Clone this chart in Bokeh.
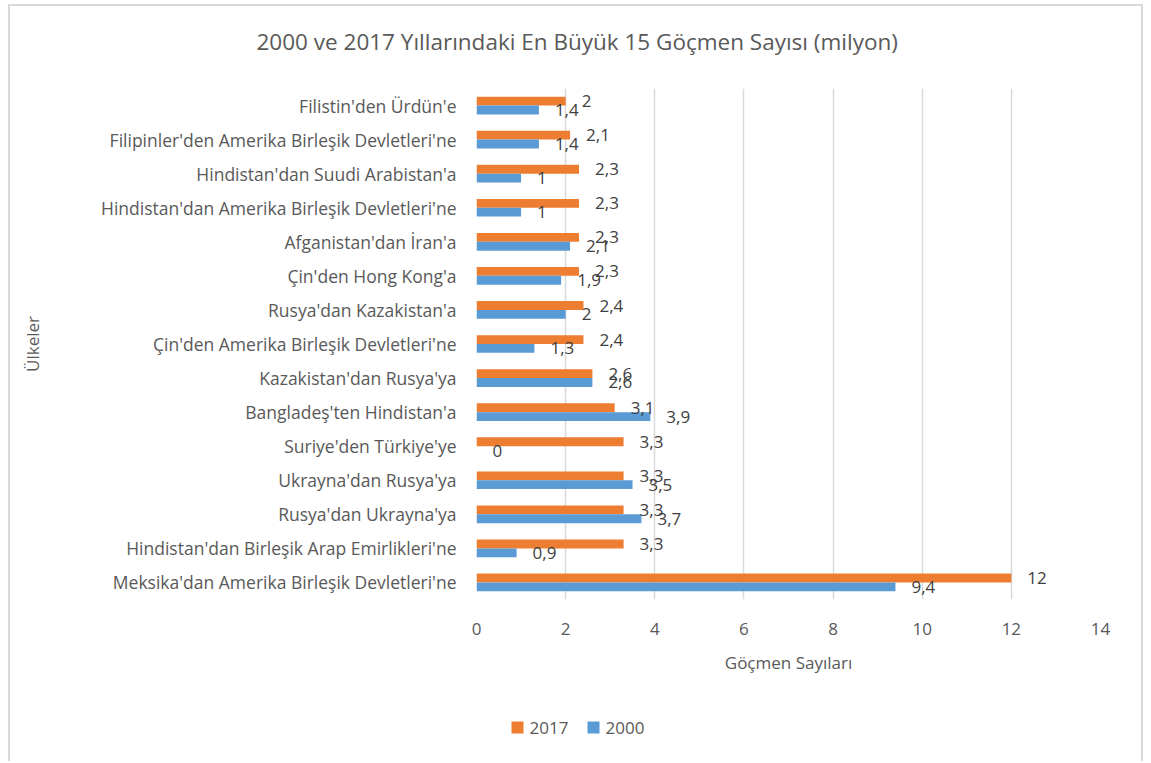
from bokeh.plotting import figure
from bokeh.layouts import column
from bokeh.models import ColumnDataSource, Range1d, FactorRange, FixedTicker, Title
from bokeh.transform import dodge
from bokeh.core.properties import value
from bokeh.embed import file_html
from bokeh.resources import INLINE

# ---- data (top to bottom as in the chart) ----
categories = [
    "Filistin'den Ürdün'e",
    "Filipinler'den Amerika Birleşik Devletleri'ne",
    "Hindistan'dan Suudi Arabistan'a",
    "Hindistan'dan Amerika Birleşik Devletleri'ne",
    "Afganistan'dan İran'a",
    "Çin'den Hong Kong'a",
    "Rusya'dan Kazakistan'a",
    "Çin'den Amerika Birleşik Devletleri'ne",
    "Kazakistan'dan Rusya'ya",
    "Bangladeş'ten Hindistan'a",
    "Suriye'den Türkiye'ye",
    "Ukrayna'dan Rusya'ya",
    "Rusya'dan Ukrayna'ya",
    "Hindistan'dan Birleşik Arap Emirlikleri'ne",
    "Meksika'dan Amerika Birleşik Devletleri'ne",
]
values_2017 = [2, 2.1, 2.3, 2.3, 2.3, 2.3, 2.4, 2.4, 2.6, 3.1, 3.3, 3.3, 3.3, 3.3, 12]
values_2000 = [1.4, 1.4, 1, 1, 2.1, 1.9, 2, 1.3, 2.6, 3.9, 0, 3.5, 3.7, 0.9, 9.4]
x_ticks = [0, 2, 4, 6, 8, 10, 12, 14]

title_text = "2000 ve 2017 Yıllarındaki En Büyük 15 Göçmen Sayısı (milyon)"
x_title = "Göçmen Sayıları"
y_title = "Ülkeler"
series_names = ["2017", "2000"]

C2017 = "#ED7D31"
C2000 = "#5B9BD5"
TXT = "#595959"
FONT = "Open Sans"

W = 1131
BORDER_L, BORDER_R = 466, 41


def fmt(v):
    return f"{v:g}".replace(".", ",")


src = ColumnDataSource(dict(
    cat=categories,
    v2017=values_2017,
    v2000=values_2000,
    l2017=[fmt(v) for v in values_2017],
    l2000=[fmt(v) for v in values_2000],
))

p = figure(
    y_range=FactorRange(factors=categories[::-1]),
    x_range=Range1d(0, 14),
    width=W, height=690,
    output_backend="svg", toolbar_location=None,
    min_border_left=BORDER_L, min_border_right=BORDER_R,
    min_border_top=82, min_border_bottom=97,
)
p.outline_line_color = None

# spacer between title and plot area
p.add_layout(Title(text=" ", text_font_size="1px", standoff=28), "above")

# title
p.title.text = title_text
p.title.text_font = FONT
p.title.text_font_size = "22.5px"
p.title.text_font_style = "normal"
p.title.text_color = TXT
p.title.align = "left"
p.title.offset = -220
p.title.standoff = 2

# bars
y17 = dodge("cat", 0.13, range=p.y_range)
y00 = dodge("cat", -0.13, range=p.y_range)
r17 = p.hbar(y=y17, right="v2017", left=0, height=0.26, source=src,
             fill_color=C2017, line_color=None)
r00 = p.hbar(y=y00, right="v2000", left=0, height=0.26, source=src,
             fill_color=C2000, line_color=None)

# data labels
p.text(x="v2017", y=y17, text="l2017", source=src, x_offset=16,
       text_baseline="middle", text_align="left", text_font=value(FONT),
       text_font_size="17px", text_color="#404040")
p.text(x="v2000", y=y00, text="l2000", source=src, x_offset=16,
       text_baseline="middle", text_align="left", text_font=value(FONT),
       text_font_size="17px", text_color="#404040")

# axes
p.xaxis.ticker = FixedTicker(ticks=x_ticks)
p.xaxis.axis_label = x_title
for ax in (p.xaxis[0], p.yaxis[0]):
    ax.axis_line_color = None
    ax.major_tick_line_color = None
    ax.minor_tick_line_color = None
    ax.major_tick_out = 0
    ax.major_tick_in = 0
    ax.major_label_text_font = FONT
    ax.major_label_text_font_size = "17px"
    ax.major_label_text_color = TXT
    ax.axis_label_text_font = FONT
    ax.axis_label_text_font_size = "17px"
    ax.axis_label_text_font_style = "normal"
    ax.axis_label_text_color = TXT
p.yaxis.major_label_text_font_size = "17.5px"
p.xaxis.major_label_standoff = 23
p.xaxis.axis_label_standoff = 13
p.yaxis.axis_label = y_title
p.yaxis.major_label_standoff = 20
p.yaxis.axis_label_standoff = 54

p.ygrid.grid_line_color = None
p.xgrid.grid_line_color = "#d9d9d9"
p.xgrid.grid_line_width = 1.5

# legend strip (separate small figure below the chart, frame-pixel coordinates)
FW = W - BORDER_L - BORDER_R
LH = 65
lg = figure(width=W, height=LH, x_range=Range1d(0, FW), y_range=Range1d(0, LH),
            x_axis_type=None, y_axis_type=None,
            output_backend="svg", toolbar_location=None,
            min_border_left=BORDER_L, min_border_right=BORDER_R,
            min_border_top=0, min_border_bottom=0)
lg.grid.grid_line_color = None
lg.outline_line_color = None
lg.title.text_font_size = "0px"
lg.title.standoff = 0

legend_x0 = 35       # left edge of first swatch, from the plot area's left edge
legend_yc = 34       # vertical centre of the legend row
swatch = 12
gap = 6
item_step = 76
sw_x = [legend_x0 + swatch / 2 + i * item_step for i in range(len(series_names))]
tx_x = [legend_x0 + swatch + gap + i * item_step for i in range(len(series_names))]
lg.rect(x=sw_x, y=[legend_yc] * 2, width=swatch, height=swatch,
        fill_color=[C2017, C2000], line_color=None)
lg.text(x=tx_x, y=[legend_yc] * 2, text=series_names, text_baseline="middle",
        text_align="left", text_font=value(FONT), text_font_size="17px",
        text_color=TXT)

layout = column(p, lg, spacing=0, styles={
    "margin-top": "4px", "margin-left": "8px",
    "border-top": "2px solid #d9d9d9",
    "border-left": "2px solid #d9d9d9",
    "border-right": "2px solid #d9d9d9"})

open("out.html", "w").write(file_html(layout, INLINE))
